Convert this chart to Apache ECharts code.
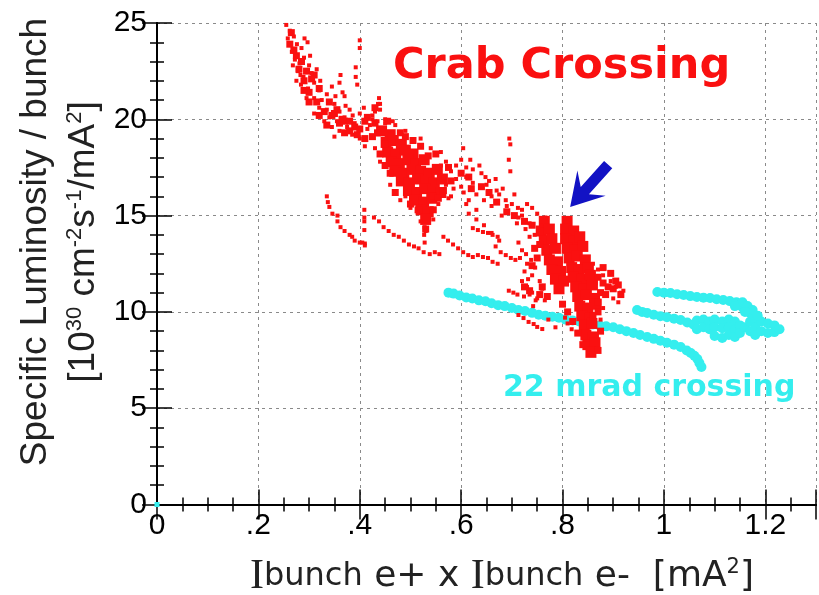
<!DOCTYPE html>
<html><head><meta charset="utf-8">
<script src="https://cdn.jsdelivr.net/npm/echarts@6/dist/echarts.min.js"></script>
<style>html,body{margin:0;padding:0;background:#fff}#c{width:819px;height:595px}</style>
</head><body><div id="c"></div>
<script>
// ---- tick labels ----
const xTickLabels = ['0', '.2', '.4', '.6', '.8', '1', '1.2'];
const yTickLabels = ['0', '5', '10', '15', '20', '25'];

// ---- Crab crossing (red): sparse dots ----
const crabDots = [
  [0.255,24.9],[0.262,24.6],[0.27,24.3],[0.258,24.2],[0.276,23.9],[0.266,23.5],[0.285,23.7],[0.291,24.2],[0.297,24.0],
  [0.272,23.1],[0.281,22.9],[0.29,23.2],[0.3,22.8],[0.278,22.5],[0.289,22.2],[0.305,22.4],[0.315,22.6],[0.284,21.8],
  [0.298,21.6],[0.31,21.9],[0.32,21.5],[0.295,21.1],[0.31,21.1],[0.325,21.0],[0.335,21.3],[0.345,21.7],[0.32,20.6],
  [0.335,20.5],[0.35,20.8],[0.36,20.4],[0.34,20.1],[0.355,19.9],[0.37,20.1],[0.38,20.5],[0.345,19.6],[0.36,19.4],
  [0.375,19.6],[0.39,19.8],[0.4,20.3],[0.385,19.2],[0.4,19.0],[0.415,19.5],[0.425,20.0],[0.43,20.4],[0.44,20.8],
  [0.275,22.0],[0.33,19.9],[0.35,19.1],[0.31,20.3],
  [0.4,24.1],[0.4,23.7],[0.392,22.7],[0.392,22.2],[0.395,21.8],[0.362,22.3],[0.36,21.9],[0.366,21.4],[0.37,21.2],
  [0.438,21.1],[0.436,20.8],
  [0.42,19.7],[0.45,20.0],[0.47,19.7],[0.49,19.4],[0.52,19.0],[0.54,18.5],[0.56,18.3],[0.57,17.8],[0.58,17.3],
  [0.57,16.6],[0.59,16.9],[0.6,16.5],[0.555,15.6],[0.53,14.2],[0.52,14.7],[0.545,14.8],[0.5,15.4],[0.49,16.0],
  [0.46,16.6],[0.44,17.8],[0.43,18.5],[0.41,18.6],[0.528,14.4],[0.527,14.0],[0.528,13.6],[0.48,15.8],[0.58,16.0],
  [0.604,18.5],[0.61,17.5],[0.61,17.0],[0.623,17.4],[0.623,16.7],[0.64,17.2],[0.65,16.6],[0.66,16.0],[0.655,16.8],
  [0.67,16.3],[0.69,15.5],[0.675,16.1],[0.7,15.6],[0.72,15.3],[0.605,16.2],[0.615,15.8],[0.61,15.6],[0.63,15.3],
  [0.615,15.1],[0.63,14.8],[0.645,14.5],[0.66,14.1],[0.675,13.7],[0.695,19.0],[0.697,18.7],[0.694,17.9],[0.697,17.3],
  [0.74,15.4],[0.75,15.1],[0.766,14.9],[0.688,15.8],[0.713,14.9],[0.727,14.3],[0.68,15.0],[0.71,14.6],[0.72,15.0],
  [0.735,14.6],[0.745,14.0],[0.63,16.1],[0.645,15.8],[0.66,15.5],[0.59,17.6],[0.6,17.9],
  [0.335,16.0],[0.337,15.7],[0.34,15.45],[0.346,15.1],[0.356,15.0],[0.356,14.7],[0.362,14.4],[0.37,14.2],[0.38,14.0],
  [0.385,13.9],[0.39,13.7],[0.4,13.6],[0.41,13.55],
  [0.409,15.3],[0.409,14.9],[0.428,14.9],[0.438,14.7],[0.447,14.4],[0.457,14.2],[0.467,14.0],[0.477,13.9],[0.487,13.7],
  [0.497,13.5],[0.507,13.4],[0.516,13.3],[0.526,13.1],[0.538,13.0],[0.548,13.1],[0.557,13.0],[0.409,14.7],[0.409,14.25],
  [0.405,13.6],[0.41,13.45],
  [0.565,13.9],[0.574,13.7],[0.584,13.5],[0.594,13.3],[0.604,13.1],[0.614,12.95],[0.623,12.85],[0.633,12.95],
  [0.643,12.85],[0.653,12.8],[0.662,12.6],[0.672,12.5],
  [0.623,14.35],[0.633,14.25],[0.643,14.15],[0.653,14.1],[0.662,14.0],[0.672,13.9],[0.668,13.4],[0.678,13.1],
  [0.688,12.95],[0.698,12.8],[0.707,12.7],
  [0.713,13.6],[0.72,13.2],[0.716,12.8],[0.73,12.5],[0.725,12.1],[0.74,11.9],[0.746,12.3],[0.72,11.6],[0.73,11.3],
  [0.74,11.0],[0.75,10.7],[0.76,11.2],[0.694,11.1],[0.703,11.0],[0.711,10.9],[0.724,10.8],[0.747,10.6],[0.735,10.9],
  [0.713,9.84],[0.723,9.68],[0.733,9.48],[0.743,9.37],[0.75,9.22],[0.76,9.11],[0.772,9.6],[0.786,9.2],[0.805,9.7],
  [0.818,9.1],[0.81,9.4],
  [0.87,12.2],[0.88,11.9],[0.895,11.6],[0.905,11.3],[0.915,11.0],[0.9,10.7],[0.885,10.9],[0.92,11.1],[0.86,12.5],
  [0.865,11.5],[0.91,10.5],
  [0.425,20.2],[0.435,19.9],[0.45,19.8],[0.44,20.5],[0.465,19.9],[0.56,17.6],[0.565,17.0],[0.585,16.4],[0.575,15.9],
  [0.735,13.9],[0.728,13.0],[0.738,12.7],[0.732,11.7],[0.755,11.6],[0.742,10.3],[0.765,10.6],[0.875,9.6],[0.88,10.2],
  [0.268,22.8],[0.283,22.3],[0.302,23.3],[0.322,22.0],[0.338,20.9],[0.352,21.2],[0.372,20.7],[0.386,20.2],[0.408,20.6],
  [0.618,17.9],[0.636,17.6],[0.648,17.0],[0.668,16.9],[0.682,16.4],[0.705,16.1],[0.712,15.4],[0.73,15.6],[0.758,14.5]
];
// ---- Crab crossing (red): speckled areas ----
const crabSpeckle = [
  [0.28,22.6],[0.29,22.0],[0.3,21.4],[0.315,20.9],[0.33,20.4],[0.345,20.2],[0.36,19.8],[0.38,19.4],[0.395,19.2],
  [0.41,19.0],[0.425,19.1],[0.27,23.6],[0.265,24.5],[0.43,19.8],[0.44,18.2],[0.45,17.6],[0.47,16.2],[0.5,15.6],
  [0.545,16.0],[0.58,16.8],[0.575,17.5],[0.55,18.2],[0.52,18.6],[0.49,19.1],[0.545,15.3],[0.53,14.3],
  [0.755,13.5],[0.75,12.8],[0.745,13.3],[0.76,11.3],[0.77,10.8],[0.8,10.4],[0.81,10.0],[0.82,9.5],[0.83,8.9],
  [0.84,8.3],[0.87,8.0],[0.875,9.0],[0.87,10.0],
  [0.87,11.8],[0.88,11.5],[0.89,11.3],[0.9,11.2],[0.875,11.0],[0.885,10.9],[0.905,11.6],[0.895,12.0],[0.87,10.5],[0.86,9.8],
  [0.285,23.0],[0.305,22.1],[0.32,21.6],[0.34,20.9],[0.355,20.5],[0.37,19.9],[0.39,19.6],[0.43,20.6],[0.415,20.1],
  [0.435,19.3],[0.455,19.9],[0.48,19.3],[0.505,18.9],[0.535,18.1],[0.565,16.3],[0.555,15.9],[0.515,15.3],[0.46,17.2],
  [0.45,18.7],[0.74,12.4],[0.735,11.1],[0.755,10.9],[0.725,11.3],[0.91,11.4],[0.915,10.9],[0.88,12.3],
  [0.262,23.9],[0.275,23.3],[0.295,22.5],[0.31,22.3],[0.3,20.9],[0.32,20.2],[0.335,19.7],[0.35,20.3],[0.365,20.0],
  [0.38,19.9],[0.37,19.3],[0.4,19.5],[0.41,19.9],[0.29,21.5],
  [0.6,17.2],[0.62,16.4],[0.64,16.5],[0.655,16.2],[0.67,15.7],[0.69,15.2],[0.705,15.0],[0.725,14.7],[0.74,14.5],[0.615,17.0]
];
// ---- Crab crossing (red): dense cores ----
const crabCore = [
  [0.443,19.4],[0.46,19.2],
  [0.452,18.8],[0.466,18.9],[0.482,18.7],
  [0.455,18.3],[0.471,18.2],[0.49,18.4],[0.505,18.2],
  [0.462,17.8],[0.478,17.7],[0.495,17.9],[0.51,17.7],[0.527,17.9],
  [0.469,17.3],[0.487,17.2],[0.503,17.4],[0.52,17.3],[0.537,17.2],[0.553,17.4],
  [0.482,16.8],[0.498,16.7],[0.514,16.9],[0.53,16.8],[0.547,16.7],[0.563,16.9],
  [0.496,16.3],[0.512,16.2],[0.528,16.4],[0.545,16.3],[0.56,16.2],
  [0.508,15.8],[0.526,15.7],[0.542,15.9],
  [0.521,15.3],[0.535,15.2],
  [0.53,14.8],
  [0.764,14.7],[0.758,14.2],[0.774,14.3],[0.764,13.7],[0.779,13.8],[0.769,13.2],[0.786,13.3],[0.774,12.7],[0.79,12.6],
  [0.779,12.2],[0.796,12.1],[0.786,11.7],[0.802,11.6],[0.793,11.2],
  [0.809,14.7],[0.806,14.3],[0.822,14.2],[0.806,13.8],[0.823,13.7],[0.834,13.9],[0.809,13.3],[0.825,13.2],[0.84,13.4],
  [0.813,12.8],[0.829,12.9],[0.845,12.7],[0.818,12.3],[0.833,12.2],[0.851,12.3],[0.821,11.8],[0.838,11.7],[0.855,11.9],
  [0.826,11.3],[0.842,11.2],[0.859,11.4],[0.83,10.8],[0.847,10.9],[0.863,10.7],[0.834,10.3],[0.85,10.2],[0.866,10.4],
  [0.838,9.8],[0.855,9.7],[0.843,9.3],[0.858,9.4],[0.846,8.8],[0.861,8.7],[0.85,8.3],[0.864,8.4],[0.856,7.9]
];
// ---- 22 mrad crossing (cyan) ----
const cyanLower = [
  [0.575,11.0],[0.585,10.95],[0.597,10.85],[0.61,10.75],[0.622,10.7],[0.635,10.6],[0.648,10.55],[0.66,10.45],
  [0.673,10.35],[0.686,10.3],[0.7,10.2],[0.713,10.1],[0.726,10.05],[0.74,9.95],[0.753,9.85],[0.766,9.8],[0.78,9.75],
  [0.793,9.7],[0.806,9.6],[0.82,9.55],[0.833,9.5],[0.846,9.45],[0.86,9.35],[0.873,9.3],[0.886,9.25],[0.9,9.2],
  [0.913,9.1],[0.926,9.0],[0.94,8.9],[0.953,8.8],[0.967,8.7],[0.98,8.6],[0.993,8.5],[1.006,8.4],[1.02,8.3],
  [1.033,8.18],[1.045,8.0],[1.053,7.87],[1.06,7.72],[1.066,7.55],[1.07,7.35],[1.074,7.14]
];
const cyanMiddle = [
  [0.947,10.1],[0.957,10.0],[0.967,9.94],[0.98,9.85],[0.993,9.78],[1.006,9.72],[1.02,9.65],[1.033,9.58],[1.046,9.45],
  [1.058,9.35],[1.065,9.55],[1.065,9.1],[1.078,9.6],[1.078,9.2],[1.09,9.5],[1.09,9.1],[1.1,9.6],[1.1,9.2],[1.1,8.75],
  [1.115,9.5],[1.115,9.15],[1.115,8.65],[1.128,9.6],[1.128,9.2],[1.128,8.8],[1.14,9.5],[1.14,9.1],[1.14,8.7],
  [1.15,9.3],[1.15,8.9],[1.16,9.2],[1.17,9.5],[1.17,9.0],[1.18,9.6],[1.18,9.2],[1.18,8.8],[1.192,9.5],[1.192,9.0],
  [1.205,9.4],[1.205,8.9],[1.218,9.3],[1.218,8.95],[1.228,9.1]
];
const cyanUpper = [
  [0.987,11.03],[1.0,11.0],[1.013,10.98],[1.026,10.92],[1.039,10.88],[1.052,10.82],[1.065,10.77],[1.078,10.74],
  [1.091,10.72],[1.104,10.66],[1.117,10.62],[1.13,10.56],[1.143,10.5],[1.15,10.35],[1.156,10.2],[1.163,10.05],
  [1.17,9.95],[1.176,9.85],[1.155,10.5],[1.165,10.3],[1.175,10.1],[1.185,9.8],[1.14,10.3],[1.16,10.0]
];
const cyanOrigin = [[0, 0]];
// ---- arrow annotation (data coords: tail and tip) ----
const arrowTail = [0.89, 17.65];
const arrowTip = [0.815, 15.45];

const RED = '#fa1010', CYAN = '#34eeee', BLUE = '#1212c4';
const labelFont = { fontFamily: 'Liberation Sans', fontSize: 30, color: '#000' };
const gridLine = { show: true, lineStyle: { color: '#8a8a8a', type: [3, 4], width: 1 } };
const axisLine = { show: true, lineStyle: { color: '#000', width: 2 } };

const xBase = { type: 'value', min: 0, max: 1.3, interval: 0.2, axisLine,
  axisTick: { show: true, inside: true, length: 15, lineStyle: { color: '#000', width: 1.5 } },
  minorTick: { show: true, splitNumber: 4, length: 7, lineStyle: { color: '#000', width: 1.5 } } };
const yBase = { type: 'value', min: 0, max: 25, interval: 5, axisLine,
  axisTick: { show: true, inside: true, length: 15, lineStyle: { color: '#000', width: 1.5 } },
  minorTick: { show: true, splitNumber: 5, length: 7, lineStyle: { color: '#000', width: 1.5 } } };
const pt = (color) => ({ color, opacity: 1 });

const textGraphics = [
  { id: 'crabTitle', type: 'text', x: 393, y: 67, silent: true,
    style: { text: 'Crab Crossing', fill: RED, font: 'bold 43px "DejaVu Sans"', align: 'left', verticalAlign: 'middle' } },
  { id: 'mradTitle', type: 'text', x: 503, y: 388, silent: true,
    style: { text: '22 mrad crossing', fill: CYAN, font: 'bold 30px "DejaVu Sans"', align: 'left', verticalAlign: 'middle' } },
  { id: 'yTitle1', type: 'text', x: 36, y: 242, rotation: Math.PI / 2, silent: true,
    style: { text: 'Specific Luminosity / bunch', fill: '#222', font: '37px "Liberation Sans"', align: 'center', verticalAlign: 'middle' } },
  { id: 'yTitle2', type: 'text', x: 84, y: 242, rotation: Math.PI / 2, silent: true,
    style: { text: '{n|[10}{s|30}{n| cm}{s|-2}{n|s}{s|-1}{n|/mA}{s|2}{n|]}', align: 'center', verticalAlign: 'middle',
      rich: { n: { fontFamily: 'Liberation Sans', fontSize: 37, lineHeight: 40, fill: '#222' },
              s: { fontFamily: 'Liberation Sans', fontSize: 22, lineHeight: 14, verticalAlign: 'top', fill: '#222' } } } },
  { id: 'xTitle', type: 'text', x: 502, y: 577, silent: true,
    style: { text: '{I|I}{b|bunch}{n| e+ x }{I|I}{b|bunch}{n| e-  [mA}{s|2}{n|]}', align: 'center', verticalAlign: 'middle',
      rich: { I: { fontFamily: 'Liberation Serif', fontSize: 42, lineHeight: 40, fill: '#222' },
              b: { fontFamily: 'DejaVu Sans', fontSize: 32, lineHeight: 40, fill: '#222' },
              n: { fontFamily: 'DejaVu Sans', fontSize: 36, lineHeight: 40, fill: '#222' },
              s: { fontFamily: 'DejaVu Sans', fontSize: 21, lineHeight: 14, verticalAlign: 'top', fill: '#222' } } } }
];

const chart = echarts.init(document.getElementById('c'), null, { renderer: 'canvas' });
chart.setOption({
  animation: false,
  backgroundColor: '#fff',
  grid: { left: 157, top: 23, width: 666, height: 481.5, containLabel: false },
  xAxis: [
    Object.assign({}, xBase, { position: 'bottom', splitLine: gridLine,
      axisLabel: Object.assign({ margin: 6, formatter: v => xTickLabels[Math.round(v / 0.2)] || '' }, labelFont) }),
    Object.assign({}, xBase, { position: 'top', splitLine: { show: false }, axisLabel: { show: false } })
  ],
  yAxis: [
    Object.assign({}, yBase, { position: 'left', splitLine: gridLine,
      axisLabel: Object.assign({ margin: 10, formatter: v => yTickLabels[Math.round(v / 5)] || '' }, labelFont) }),
    Object.assign({}, yBase, { position: 'right', splitLine: { show: false }, axisLabel: { show: false } })
  ],
  series: [
    { type: 'scatter', data: cyanLower, symbol: 'circle', symbolSize: 10, itemStyle: pt(CYAN) },
    { type: 'scatter', data: cyanMiddle, symbol: 'circle', symbolSize: 10, itemStyle: pt(CYAN) },
    { type: 'scatter', data: cyanUpper, symbol: 'circle', symbolSize: 10, itemStyle: pt(CYAN) },
    { type: 'scatter', data: cyanOrigin, symbol: 'rect', symbolSize: 5, itemStyle: pt(CYAN) },
    { type: 'scatter', data: crabCore, symbol: 'rect', symbolSize: 11, itemStyle: pt(RED) },
    { type: 'scatter', data: crabSpeckle, symbol: 'rect', symbolSize: 7, itemStyle: pt(RED) },
    { type: 'scatter', data: crabDots, symbol: 'rect', symbolSize: 4, itemStyle: pt(RED) }
  ]
});

// Arrow annotation, positioned through the chart's own coordinate system
const tip = chart.convertToPixel({ gridIndex: 0 }, arrowTip);
const tail = chart.convertToPixel({ gridIndex: 0 }, arrowTail);
const dx = tail[0] - tip[0], dy = tail[1] - tip[1], L = Math.hypot(dx, dy);
const ux = dx / L, uy = dy / L, px = -uy, py = ux;
const P = (a, b) => [tip[0] + ux * a + px * b, tip[1] + uy * a + py * b];
const headLen = 32, notch = 22, headHalf = 19, shaftHalf = 5.5;
const tailP = (b) => [tail[0] + px * b, tail[1] + py * b];
const arrowGraphic = { id: 'arrow', type: 'polygon', silent: true, z: 100,
  shape: { points: [tip, P(headLen, headHalf), P(notch, shaftHalf), tailP(shaftHalf), tailP(-shaftHalf), P(notch, -shaftHalf), P(headLen, -headHalf)] },
  style: { fill: BLUE } };
chart.setOption({ graphic: { elements: textGraphics.concat([arrowGraphic]) } });
</script></body></html>
